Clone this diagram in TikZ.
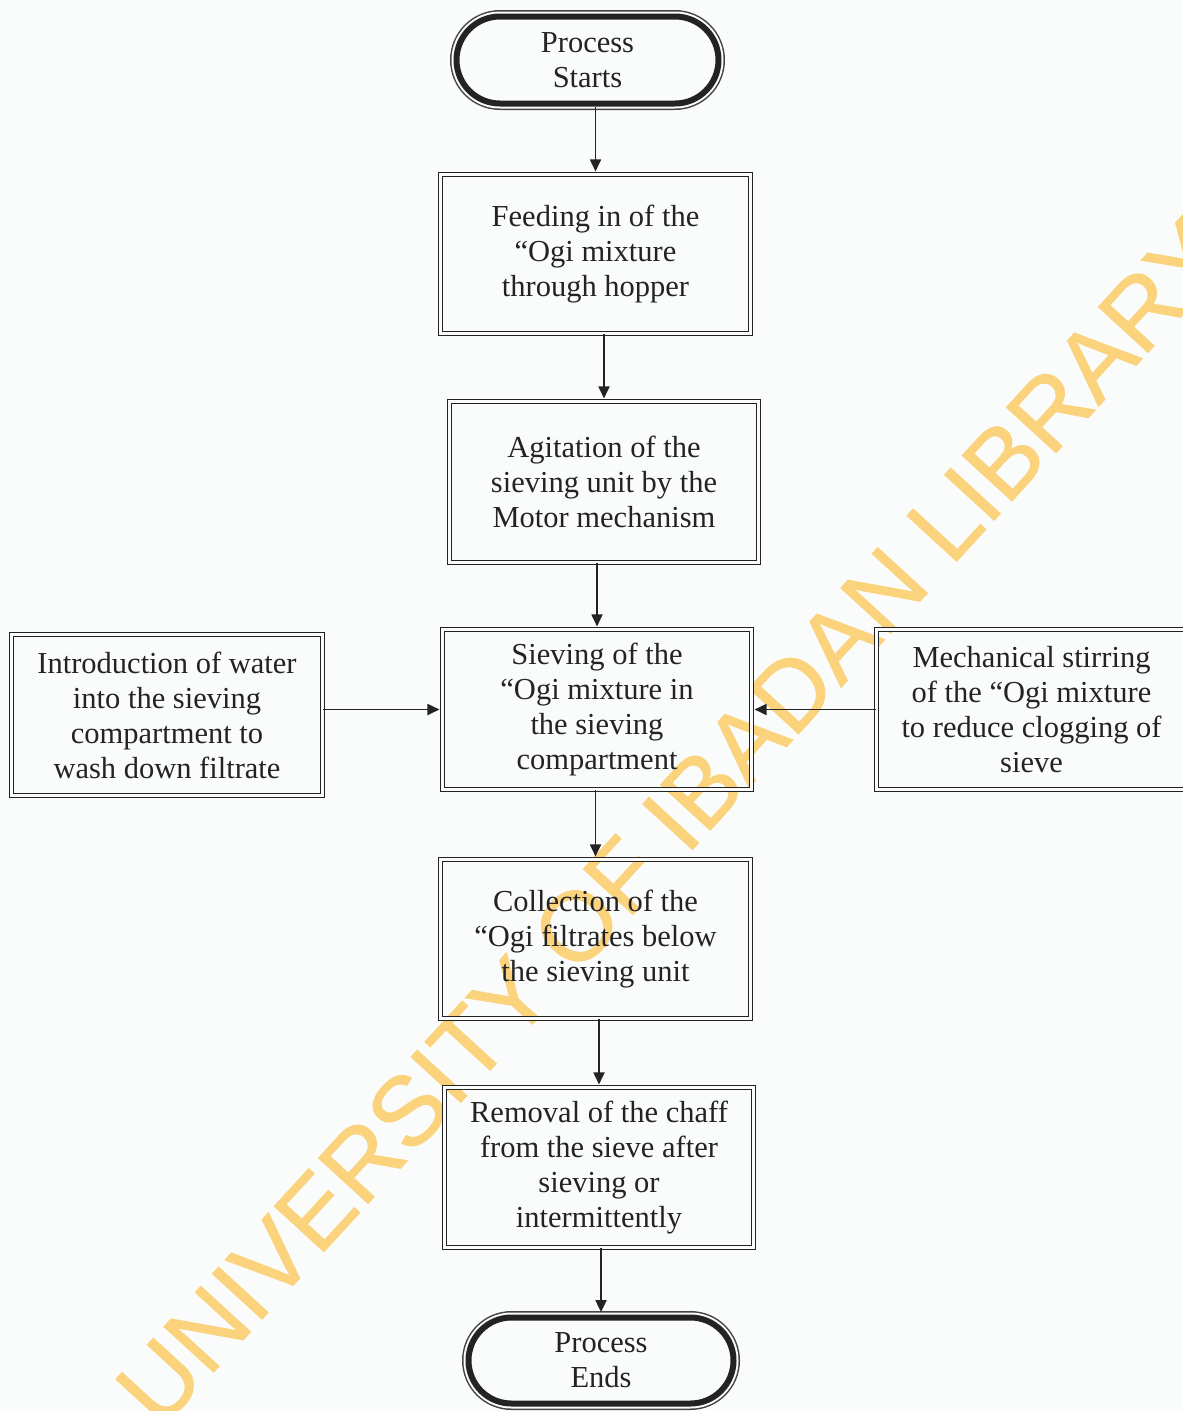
\documentclass[tikz,border=0pt]{standalone}
\usepackage{fontspec}
\setmainfont{Liberation Serif}
\newfontfamily\wmfont[FakeBold=0.9]{Liberation Sans}
\usetikzlibrary{arrows.meta,shapes.misc}
\definecolor{ink}{RGB}{35,35,38}
\definecolor{wm}{RGB}{251,211,125}
\definecolor{bg}{RGB}{250,252,252}
\tikzset{
  txt/.style={text=ink, align=center, inner sep=0pt, font=\fontsize{30.5}{35}\selectfont},
  box/.style={txt, draw=ink, line width=1.3pt, double=bg, double distance=2.6pt},
  term/.style={txt, rounded rectangle, draw=ink, line width=6pt, fill=bg,
    preaction={draw=ink!85, line width=13pt},
    preaction={draw=bg, line width=10pt}},
  arr/.style={draw=ink, line width=1.8pt, -{Triangle[length=12pt,width=11pt]}, shorten >=2.4pt},
  wmark/.style={text=wm, inner sep=0pt, rotate=47.5, font=\wmfont\fontsize{98}{98}\selectfont}
}
\begin{document}
\begin{tikzpicture}[x=1pt, y=-1pt]
\useasboundingbox[fill=bg] (0,0) rectangle (1183,1411);
% watermark (under the drawing)
\node[wmark] (wmk) at (672,822) {UNIVERSITY OF IBADAN LIBRARY};
% nodes
\node[term, minimum width=262pt, minimum height=87pt] (start) at (587.5,60) {Process\\Starts};
\node[box, minimum width=310pt, minimum height=159pt] (feed) at (595.5,254) {Feeding in of the\\``Ogi mixture\\through hopper};
\node[box, minimum width=309pt, minimum height=161pt] (agit) at (604,482) {Agitation of the\\sieving unit by the\\Motor mechanism};
\node[box, minimum width=309pt, minimum height=160pt] (sieve) at (597,709.5) {Sieving of the\\``Ogi mixture in\\the sieving\\compartment};
\node[box, minimum width=311pt, minimum height=161pt] (water) at (167,715) {Introduction of water\\into the sieving\\compartment to\\wash down filtrate};
\node[box, minimum width=310pt, minimum height=160pt] (stir) at (1031.5,709.5) {Mechanical stirring\\of the ``Ogi mixture\\to reduce clogging of\\sieve};
\node[box, minimum width=310pt, minimum height=159pt] (coll) at (595.5,939) {Collection of the\\``Ogi filtrates below\\the sieving unit};
\node[box, minimum width=309pt, minimum height=160pt] (remove) at (599,1167.5) {Removal of the chaff\\from the sieve after\\sieving or\\intermittently};
\node[term, minimum width=265pt, minimum height=86pt] (end) at (601,1360.5) {Process\\Ends};
% connectors
\draw[arr] (feed.north |- start.south) -- (feed.north);
\draw[arr] (agit.north |- feed.south) -- (agit.north);
\draw[arr] (sieve.north |- agit.south) -- (sieve.north);
\draw[arr] (water.east |- sieve.west) -- (sieve.west);
\draw[arr] (stir.west |- sieve.east) -- (sieve.east);
\draw[arr] (coll.north |- sieve.south) -- (coll.north);
\draw[arr] (remove.north |- coll.south) -- (remove.north);
\draw[arr] (end.north |- remove.south) -- (end.north);
\end{tikzpicture}
\end{document}
